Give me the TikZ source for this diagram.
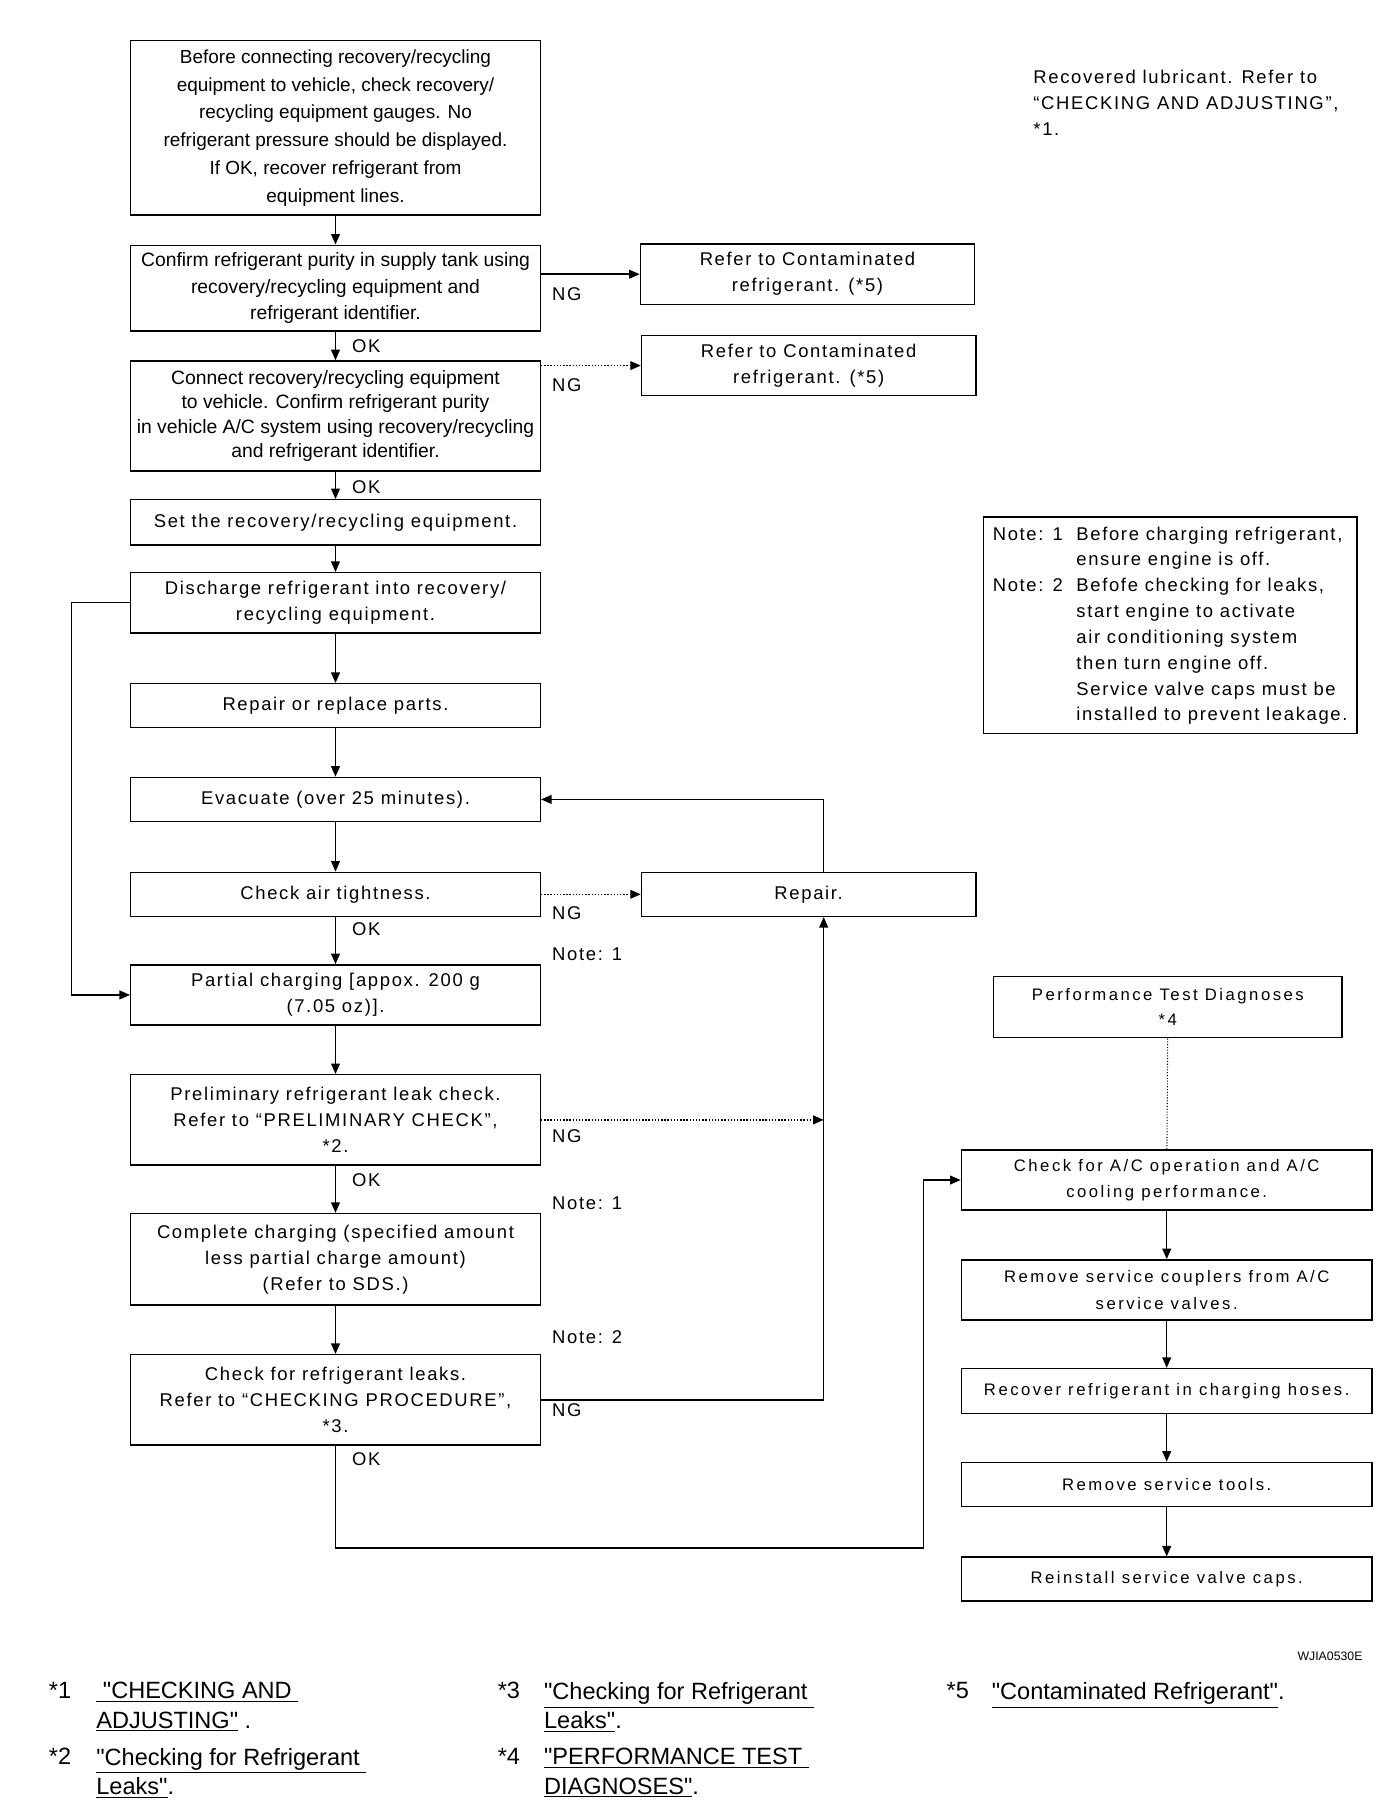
\documentclass[tikz,border=0pt]{standalone}
\usepackage{fontspec}
\setmainfont{Liberation Sans}
\newfontfamily\spacedfont[LetterSpace=9]{Liberation Sans}
\newfontfamily\widefont[LetterSpace=15]{Liberation Sans}
\usetikzlibrary{arrows.meta, calc}

\def\unitpx{0.02314cm}

\tikzset{
  flowbox/.style={draw, line width=0.8pt, fill=white, align=center, inner sep=1pt, minimum width=354*\unitpx},
  sidebox/.style={draw, line width=0.8pt, fill=white, align=center, inner sep=1pt, minimum width=289*\unitpx},
  rightbox/.style={draw, line width=0.8pt, fill=white, align=center, inner sep=1pt, minimum width=355*\unitpx, font=\widefont\fontsize{9.5}{15}\selectfont},
  spacedtext/.style={font=\spacedfont\fontsize{10.5}{14.8}\selectfont},
  flow/.style={-{Triangle[width=5pt,length=6pt]}, line width=0.8pt},
  dotflow/.style={flow, densely dotted},
  lbl/.style={anchor=west, inner sep=0pt, font=\spacedfont\fontsize{10.5}{12}\selectfont},
  fnote/.style={inner sep=0pt, align=left, font=\fontsize{13.4}{16.6}\selectfont},
}

\begin{document}
\begin{tikzpicture}[x=\unitpx, y=-\unitpx]
  \useasboundingbox (0,0) rectangle (1203,1568);

  % main column
  \node[flowbox, minimum height=151*\unitpx, font=\fontsize{10.8}{15.8}\selectfont] (b1) at (290,110.5)
    {Before connecting recovery/recycling\\equipment to vehicle, check recovery/\\recycling equipment gauges. No\\refrigerant pressure should be displayed.\\If OK, recover refrigerant from\\equipment lines.};
  \node[flowbox, minimum height=74*\unitpx, font=\fontsize{11}{15}\selectfont] (b2) at (290,249)
    {Confirm refrigerant purity in supply tank using\\recovery/recycling equipment and\\refrigerant identifier.};
  \node[flowbox, minimum height=95*\unitpx, font=\fontsize{11}{13.8}\selectfont] (b3) at (290,359.5)
    {Connect recovery/recycling equipment\\to vehicle. Confirm refrigerant purity\\in vehicle A/C system using recovery/recycling\\and refrigerant identifier.};
  \node[flowbox, spacedtext, minimum height=39*\unitpx] (b4) at (290,451.5) {Set the recovery/recycling equipment.};
  \node[flowbox, spacedtext, minimum height=52*\unitpx] (b5) at (290,521) {Discharge refrigerant into recovery/\\recycling equipment.};
  \node[flowbox, spacedtext, minimum height=38*\unitpx] (b6) at (290,610) {Repair or replace parts.};
  \node[flowbox, spacedtext, minimum height=38*\unitpx] (b7) at (290,691) {Evacuate (over 25 minutes).};
  \node[flowbox, spacedtext, minimum height=38*\unitpx] (b8) at (290,773) {Check air tightness.};
  \node[flowbox, spacedtext, minimum height=52*\unitpx] (b9) at (290,860) {Partial charging [appox. 200 g\\(7.05 oz)].};
  \node[flowbox, spacedtext, minimum height=78*\unitpx] (b10) at (290,968)
    {Preliminary refrigerant leak check.\\Refer to “PRELIMINARY CHECK”,\\*2.};
  \node[flowbox, spacedtext, minimum height=79*\unitpx] (b11) at (290,1088.5)
    {Complete charging (specified amount\\less partial charge amount)\\(Refer to SDS.)};
  \node[flowbox, spacedtext, minimum height=78*\unitpx] (b12) at (290,1210)
    {Check for refrigerant leaks.\\Refer to “CHECKING PROCEDURE”,\\*3.};

  % side boxes
  \node[sidebox, spacedtext, minimum height=52*\unitpx] (c1) at (698,237) {Refer to Contaminated\\refrigerant. (*5)};
  \node[sidebox, spacedtext, minimum height=52*\unitpx] (c2) at (699,316) {Refer to Contaminated\\refrigerant. (*5)};
  \node[sidebox, spacedtext, minimum height=38*\unitpx] (rep) at (699,773) {Repair.};

  \node[spacedtext, anchor=north west, align=left, inner sep=0pt] (lube) at (893,60)
    {Recovered lubricant. Refer to\\“CHECKING AND ADJUSTING”,\\*1.};

  \node[draw, line width=0.8pt, minimum width=323*\unitpx, minimum height=187*\unitpx, inner sep=2pt,
        font=\spacedfont\fontsize{10.5}{14.7}\selectfont] (note) at (1011.5,540.5)
    {\begin{tabular}{@{}l@{\ \ }l@{}}
      Note: 1 & Before charging refrigerant,\\
              & ensure engine is off.\\
      Note: 2 & Befofe checking for leaks,\\
              & start engine to activate\\
              & air conditioning system\\
              & then turn engine off.\\
              & Service valve caps must be\\
              & installed to prevent leakage.
    \end{tabular}};

  % right column
  \node[rightbox, minimum width=301*\unitpx, minimum height=53*\unitpx, font=\widefont\fontsize{9.5}{14.5}\selectfont] (perf) at (1009.5,870.5)
    {Performance Test Diagnoses\\*4};
  \node[rightbox, minimum height=52*\unitpx] (ac) at (1008.5,1020) {Check for A/C operation and A/C\\cooling performance.};
  \node[rightbox, minimum height=52*\unitpx] (cpl) at (1008.5,1115) {Remove service couplers from A/C\\service valves.};
  \node[rightbox, minimum height=39*\unitpx] (hose) at (1008.5,1202.5) {Recover refrigerant in charging hoses.};
  \node[rightbox, minimum height=38*\unitpx] (tool) at (1008.5,1283) {Remove service tools.};
  \node[rightbox, minimum height=38*\unitpx] (caps) at (1008.5,1365) {Reinstall service valve caps.};

  % connectors
  \coordinate (vr) at (712,693);
  \coordinate (vl) at (62,518);
  \coordinate (vb) at (798,1338);

  \draw[flow] (b1) -- (b2);
  \draw[flow] (b2) -- (b3);
  \draw[flow] (b3) -- (b4);
  \draw[flow] (b4) -- (b5);
  \draw[flow] (b5) -- (b6);
  \draw[flow] (b6) -- (b7);
  \draw[flow] (b7) -- (b8);
  \draw[flow] (b8) -- (b9);
  \draw[flow] (b9) -- (b10);
  \draw[flow] (b10) -- (b11);
  \draw[flow] (b11) -- (b12);

  \draw[flow] (b2.east |- c1.west) -- (c1.west);
  \draw[dotflow] (b3.east |- c2.west) -- (c2.west);
  \draw[dotflow] (b8.east) -- (rep.west);
  \draw[flow] (rep.north -| vr) |- (b7.east);
  \draw[dotflow] (b10.east) -- (b10.east -| vr);
  \draw[flow] (b12.east) -| (rep.south -| vr);
  \draw[flow] (b5.west) -- (b5.west -| vl) |- (b9.west);
  \draw[flow] (b12.south) |- (vb) |- (ac.west);

  \draw[densely dotted, line width=0.6pt] (perf) -- (ac);
  \draw[flow] (ac) -- (cpl);
  \draw[flow] (cpl) -- (hose);
  \draw[flow] (hose) -- (tool);
  \draw[flow] (tool) -- (caps);

  % labels
  \node[lbl] (ok1) at (304,299) {OK};
  \node[lbl] (ok2) at (304,421) {OK};
  \node[lbl] (ok3) at (304,803) {OK};
  \node[lbl] (ok4) at (304,1020) {OK};
  \node[lbl] (ok5) at (304,1261) {OK};
  \node[lbl] (ng1) at (477,254) {NG};
  \node[lbl] (ng2) at (477,333) {NG};
  \node[lbl] (ng3) at (477,789) {NG};
  \node[lbl] (ng4) at (477,982) {NG};
  \node[lbl] (ng5) at (477,1219) {NG};
  \node[lbl] (n1) at (477,825) {Note: 1};
  \node[lbl] (n2) at (477,1040) {Note: 1};
  \node[lbl] (n3) at (477,1156) {Note: 2};

  \node[anchor=east, inner sep=0pt, font=\fontsize{7}{8}\selectfont] (code) at (1178,1432) {WJIA0530E};

  % footnotes
  \node[fnote, anchor=north west] (f1) at (42,1454) {*1};
  \node[fnote, anchor=north west] (f1t) at (83,1454) {\underline{\ \textquotedbl CHECKING AND\ }\\\underline{ADJUSTING\textquotedbl} .};
  \node[fnote, anchor=north west] (f2) at (42,1511) {*2};
  \node[fnote, anchor=north west] (f2t) at (83,1511) {\underline{\textquotedbl Checking for Refrigerant\ }\\\underline{Leaks\textquotedbl}.};
  \node[fnote, anchor=north west] (f3) at (430,1454) {*3};
  \node[fnote, anchor=north west] (f3t) at (470,1454) {\underline{\textquotedbl Checking for Refrigerant\ }\\\underline{Leaks\textquotedbl}.};
  \node[fnote, anchor=north west] (f4) at (430,1511) {*4};
  \node[fnote, anchor=north west] (f4t) at (470,1511) {\underline{\textquotedbl PERFORMANCE TEST\ }\\\underline{DIAGNOSES\textquotedbl}.};
  \node[fnote, anchor=north west] (f5) at (818,1454) {*5};
  \node[fnote, anchor=north west] (f5t) at (857,1454) {\underline{\textquotedbl Contaminated Refrigerant\textquotedbl}.};
\end{tikzpicture}
\end{document}
